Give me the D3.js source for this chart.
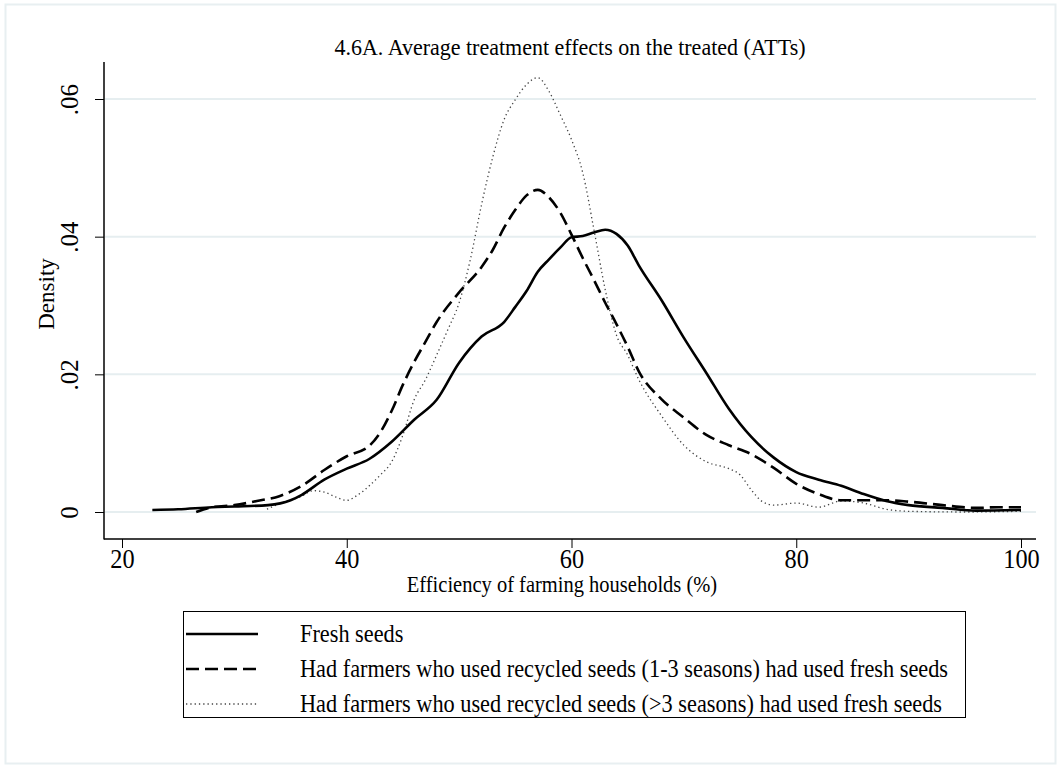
<!DOCTYPE html>
<html>
<head>
<meta charset="utf-8">
<script src="https://cdn.jsdelivr.net/npm/d3@7"></script>
<style>
  html, body { margin: 0; padding: 0; background: #fff; }
  svg { display: block; font-family: "Liberation Serif", "Times New Roman", serif; }
</style>
</head>
<body>
<svg id="chart" width="1061" height="769"></svg>
<script>
// Kernel density estimates of farm efficiency (%)
const freshX = [22.7, 25, 28, 30, 33, 35, 36, 38, 40, 42, 44, 46, 48, 50, 52, 54, 55, 56, 57, 58, 59, 60, 61, 62, 63, 64, 65, 66, 68, 70, 72, 74, 76, 78, 80, 82, 84, 86, 88, 90, 93, 96, 100];
const freshY = [0.0003, 0.0004, 0.0007, 0.0008, 0.0010, 0.0017, 0.0025, 0.0047, 0.0063, 0.0077, 0.0102, 0.0134, 0.0163, 0.0217, 0.0255, 0.0276, 0.0298, 0.0321, 0.0349, 0.0367, 0.0384, 0.0399, 0.0401, 0.0406, 0.0410, 0.0404, 0.0387, 0.0358, 0.0308, 0.0253, 0.0202, 0.0150, 0.0109, 0.0079, 0.0058, 0.0047, 0.0038, 0.0026, 0.0016, 0.0010, 0.0006, 0.0002, 0.0003];

const recycled13X = [26.6, 28, 30, 32, 34, 36, 38, 40, 42, 43, 44, 45, 46, 47, 48, 50, 52, 53, 54, 55, 56, 57, 58, 59, 60, 61, 62, 63, 64, 65, 66, 68, 70, 72, 74, 76, 78, 80, 82, 84, 86, 88, 90, 93, 96, 98, 100];
const recycled13Y = [0.0000, 0.0007, 0.0010, 0.0016, 0.0023, 0.0038, 0.0061, 0.0081, 0.0096, 0.0116, 0.0147, 0.0185, 0.0218, 0.0247, 0.0276, 0.0319, 0.0356, 0.0381, 0.0413, 0.0439, 0.0460, 0.0468, 0.0457, 0.0435, 0.0403, 0.0369, 0.0337, 0.0304, 0.0273, 0.0240, 0.0204, 0.0164, 0.0137, 0.0112, 0.0097, 0.0084, 0.0064, 0.0041, 0.0026, 0.0017, 0.0017, 0.0017, 0.0015, 0.0010, 0.0006, 0.0007, 0.0007];

const recycled3X = [32.9, 34, 36, 37, 38, 39, 40, 41, 42, 43, 44, 45, 46, 47, 48, 49, 50, 51, 52, 53, 54, 55, 56, 57, 58, 59, 60, 61, 62, 63, 64, 65, 66, 68, 70, 72, 74, 75, 76, 77, 78, 80, 82, 84, 86, 88, 90, 95, 100];
const recycled3Y = [0.0004, 0.0012, 0.0023, 0.0031, 0.0029, 0.0022, 0.0017, 0.0025, 0.0038, 0.0054, 0.0073, 0.0112, 0.0163, 0.0192, 0.0228, 0.0265, 0.0304, 0.0367, 0.0447, 0.0516, 0.0570, 0.0599, 0.0621, 0.0631, 0.0611, 0.0577, 0.0541, 0.0493, 0.0410, 0.0323, 0.0257, 0.0228, 0.0192, 0.0140, 0.0097, 0.0073, 0.0063, 0.0054, 0.0032, 0.0015, 0.0010, 0.0013, 0.0007, 0.0016, 0.0013, 0.0004, 0.0001, 0.0000, 0.0001];

const xTicks = [20, 40, 60, 80, 100];
const yTicks = [0, 0.02, 0.04, 0.06];
const yTickLabels = ["0", ".02", ".04", ".06"];

const seriesNames = [
  "Fresh seeds",
  "Had farmers who used recycled seeds (1-3 seasons) had used fresh seeds",
  "Had farmers who used recycled seeds (>3 seasons) had used fresh seeds"
];

const titleText = "4.6A. Average treatment effects on the treated (ATTs)";
const xTitle = "Efficiency of farming households (%)";
const yTitle = "Density";

// narrow the glyphs of horizontal text (a condensed serif look)
function condense(sel, factor) {
  sel.each(function () {
    const w = this.getComputedTextLength();
    d3.select(this).attr("textLength", w * factor).attr("lengthAdjust", "spacingAndGlyphs");
  });
}

const svg = d3.select("#chart");

// outer graph region border
svg.append("rect")
  .attr("x", 5.5).attr("y", 4.5).attr("width", 1050).attr("height", 759)
  .attr("fill", "#fff").attr("stroke", "#e8eff1").attr("stroke-width", 2);

const plotLeft = 104, plotRight = 1036, plotTop = 62, plotBottom = 539;

const x = d3.scaleLinear().domain([20, 100]).range([122, 1021]);
const y = d3.scaleLinear().domain([0, 0.06]).range([512, 99]);

// horizontal grid lines
svg.append("g").selectAll("line").data(yTicks).join("line")
  .attr("x1", plotLeft + 1).attr("x2", plotRight)
  .attr("y1", d => y(d)).attr("y2", d => y(d))
  .attr("stroke", "#e6eef0").attr("stroke-width", 2);

// y axis
const yAxis = d3.axisLeft(y).tickValues(yTicks).tickSize(9).tickSizeOuter(0)
  .tickFormat((d, i) => yTickLabels[i]);
const gy = svg.append("g").attr("transform", `translate(${plotLeft},0)`).call(yAxis);
gy.select(".domain").remove();
gy.selectAll(".tick line").attr("stroke", "#000").attr("stroke-width", 1);
gy.selectAll(".tick text")
  .attr("x", null).attr("dy", null)
  .attr("transform", "translate(-26,0) rotate(-90)")
  .attr("text-anchor", "middle")
  .attr("font-family", "Liberation Serif, serif")
  .attr("font-size", 25).attr("fill", "#000");

// x axis
const xAxis = d3.axisBottom(x).tickValues(xTicks).tickSize(9).tickSizeOuter(0);
const gx = svg.append("g").attr("transform", `translate(0,${plotBottom})`).call(xAxis);
gx.select(".domain").remove();
gx.selectAll(".tick line").attr("stroke", "#000").attr("stroke-width", 1);
gx.selectAll(".tick text")
  .attr("y", 29).attr("dy", null)
  .attr("font-family", "Liberation Serif, serif")
  .attr("font-size", 27).attr("fill", "#000")
  .call(condense, 0.9);

// axis lines
svg.append("line").attr("x1", plotLeft).attr("x2", plotLeft)
  .attr("y1", plotTop).attr("y2", plotBottom + 0.5)
  .attr("stroke", "#000").attr("stroke-width", 1.5);
svg.append("line").attr("x1", plotLeft).attr("x2", plotRight)
  .attr("y1", plotBottom).attr("y2", plotBottom)
  .attr("stroke", "#000").attr("stroke-width", 1.5);

// density curves
const line = d3.line().x(d => x(d[0])).y(d => y(d[1])).curve(d3.curveMonotoneX);
const styles = [
  { stroke: "#000", width: 2.6, dash: null },
  { stroke: "#000", width: 2.6, dash: "13,6" },
  { stroke: "#444", width: 1.3, dash: "1.3,3" }
];
const series = [
  d3.zip(freshX, freshY),
  d3.zip(recycled13X, recycled13Y),
  d3.zip(recycled3X, recycled3Y)
];
const order = [2, 1, 0];
order.forEach(i => {
  svg.append("path").datum(series[i])
    .attr("d", line)
    .attr("fill", "none")
    .attr("stroke", styles[i].stroke)
    .attr("stroke-width", styles[i].width)
    .attr("stroke-dasharray", styles[i].dash)
    .attr("stroke-linejoin", "round");
});

// titles
svg.append("text").attr("x", 570).attr("y", 55).attr("text-anchor", "middle")
  .attr("font-size", 24).attr("fill", "#000").text(titleText)
  .call(condense, 22 / 24);
svg.append("text").attr("x", 562).attr("y", 592).attr("text-anchor", "middle")
  .attr("font-size", 22.3).attr("fill", "#000").text(xTitle)
  .call(condense, 20.5 / 22.3);
svg.append("text").attr("transform", "translate(54,294) rotate(-90)")
  .attr("text-anchor", "middle").attr("font-size", 23).attr("fill", "#000").text(yTitle);

// legend
const legend = svg.append("g");
legend.append("rect").attr("x", 183.5).attr("y", 611.5).attr("width", 782).attr("height", 106)
  .attr("fill", "#fff").attr("stroke", "#000").attr("stroke-width", 1);
const rowY = d3.scalePoint().domain(d3.range(seriesNames.length)).range([634, 704]);
seriesNames.forEach((name, i) => {
  legend.append("line").attr("x1", 186).attr("x2", 258)
    .attr("y1", rowY(i)).attr("y2", rowY(i))
    .attr("stroke", styles[i].stroke).attr("stroke-width", styles[i].width)
    .attr("stroke-dasharray", styles[i].dash);
  legend.append("text").attr("x", 300).attr("y", rowY(i) + 8)
    .attr("font-size", 24.2).attr("fill", "#000").text(name)
    .call(condense, 22.3 / 24.2);
});
</script>
</body>
</html>
